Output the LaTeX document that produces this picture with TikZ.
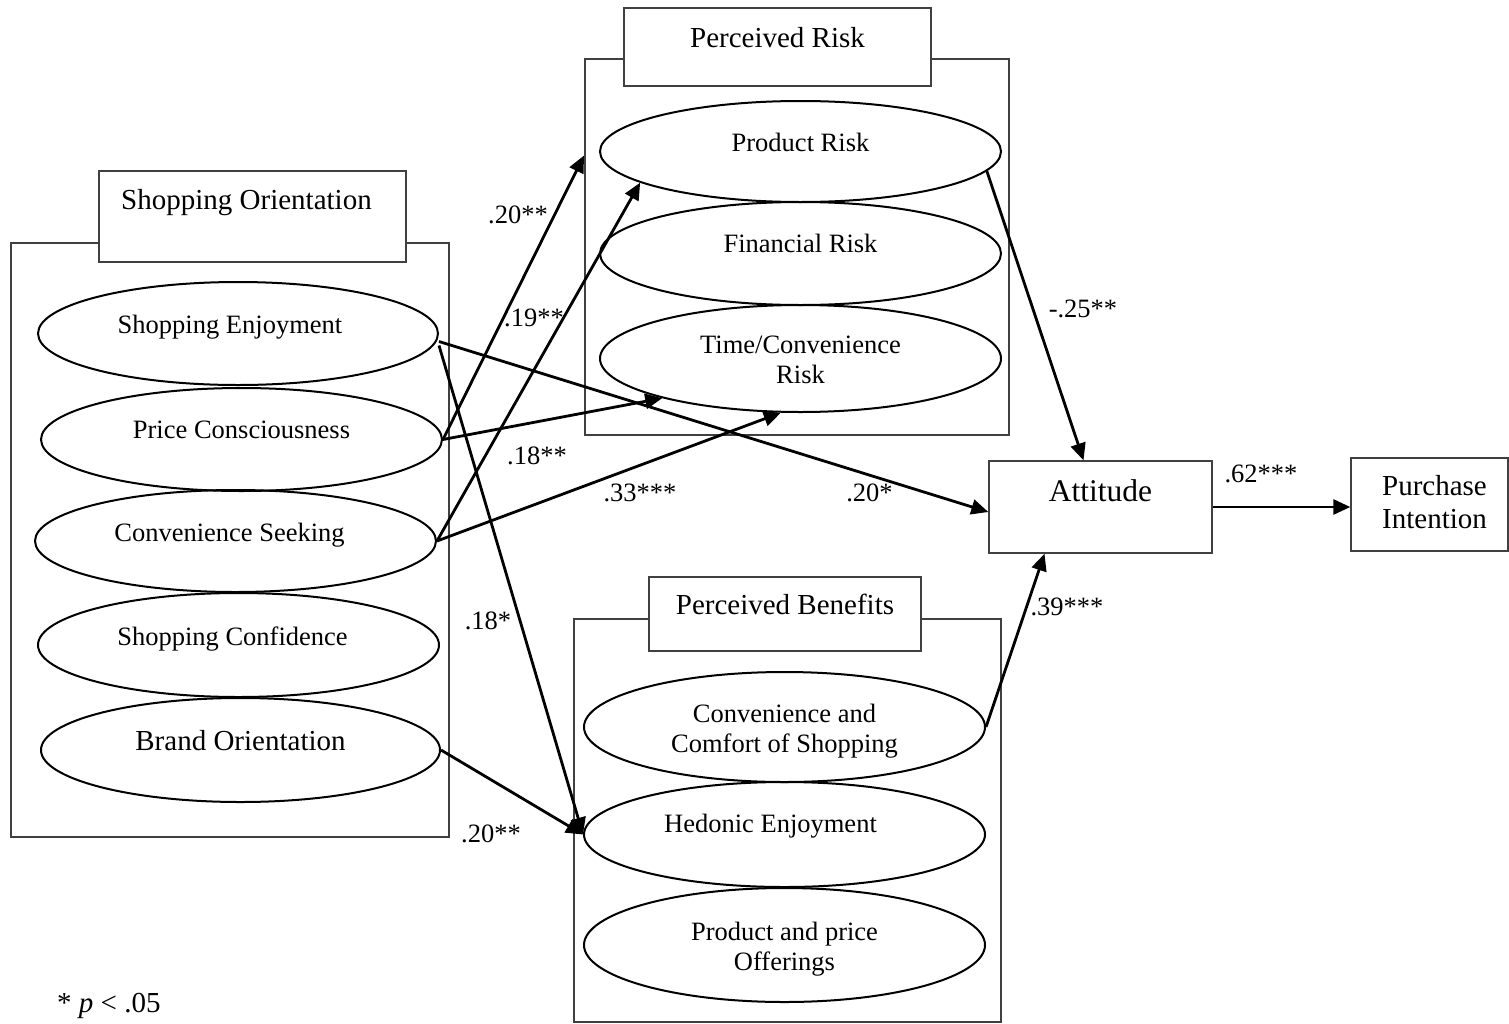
\documentclass[tikz,border=0pt]{standalone}
\usepackage{fontspec}
\setmainfont{Liberation Serif}
\usetikzlibrary{shapes.geometric, arrows.meta}
\tikzstyle{construct} = [ellipse, draw=black, line width=2pt, inner sep=0pt, minimum width=401pt]
\tikzstyle{group} = [rectangle, draw=black!75, line width=1.4pt, inner sep=0pt]
\tikzstyle{heading} = [rectangle, draw=black!75, line width=1.4pt, inner sep=0pt, fill=white]
\tikzstyle{varname} = [font=\fontsize{26.5}{30.5}\selectfont, align=center, anchor=base, inner sep=0pt]
\tikzstyle{bigname} = [font=\fontsize{29}{33}\selectfont, align=center, anchor=base, inner sep=0pt]
\tikzstyle{coef} = [font=\fontsize{26.5}{30.5}\selectfont, inner sep=0pt]
\tikzstyle{edge} = [line width=2.8pt, -{Triangle[length=17pt, width=15pt]}]

\begin{document}
\begin{tikzpicture}[x=1pt, y=-1pt]

\fill[white] (0,0) rectangle (1509,1023);
\useasboundingbox (0,0) rectangle (1509,1023);

% groups
\node (sobox) [group, minimum width=438pt, minimum height=594pt] at (230,540) {};
\node (sotitle) [heading, minimum width=307pt, minimum height=91pt] at (252.5,216.5) {};
\node (prbox) [group, minimum width=424pt, minimum height=376pt] at (797,247) {};
\node (prtitle) [heading, minimum width=307pt, minimum height=78pt] at (777.5,47) {};
\node (pbbox) [group, minimum width=427pt, minimum height=403pt] at (787.5,820.5) {};
\node (pbtitle) [heading, minimum width=272pt, minimum height=74pt] at (785,614) {};
\node (att) [heading, minimum width=223pt, minimum height=92pt] at (1100.5,507) {};
\node (pi) [heading, minimum width=157pt, minimum height=93pt] at (1429.5,504.5) {};

\node [bigname] at ([xshift=-6pt,yshift=7.5pt]sotitle.center) {Shopping Orientation};
\node [bigname] at (prtitle.center) {Perceived Risk};
\node [bigname] at (pbtitle.center) {Perceived Benefits};
\node [bigname, font=\fontsize{31.5}{35}\selectfont] at ([yshift=6pt]att.center) {Attitude};
\node [bigname] at ([xshift=5pt,yshift=-23.5pt]pi.center) {Purchase\\Intention};

% shopping orientation
\node (se) [construct, minimum width=400pt, minimum height=103pt] at (238,333.5) {};
\node (pc) [construct, minimum height=103pt] at (241.5,439.5) {};
\node (cs) [construct, minimum height=102pt] at (235.5,541) {};
\node (sc) [construct, minimum height=104pt] at (238.5,645) {};
\node (bo) [construct, minimum width=399pt, minimum height=104pt] at (240.5,750) {};

\node [varname] at ([xshift=-8pt]se.center) {Shopping Enjoyment};
\node [varname] at ([yshift=1.5pt]pc.center) {Price Consciousness};
\node [varname] at ([xshift=-6pt]cs.center) {Convenience Seeking};
\node [varname] at ([xshift=-6pt]sc.center) {Shopping Confidence};
\node [bigname] at (bo.center) {Brand Orientation};

% perceived risk
\node (prod) [construct, minimum height=101pt] at (800.5,151.5) {};
\node (fin) [construct, minimum height=103pt] at (800.5,253.5) {};
\node (tc) [construct, minimum height=107pt] at (800.5,358.5) {};

\node [varname] at (prod.center) {Product Risk};
\node [varname] at ([yshift=1.5pt]fin.center) {Financial Risk};
\node [varname] at ([yshift=-25pt]tc.center) {Time/Convenience\\Risk};

% perceived benefits
\node (cc) [construct, minimum height=110pt] at (784.5,727) {};
\node (he) [construct, minimum height=105pt] at (784.5,834.5) {};
\node (pp) [construct, minimum height=114pt] at (784.5,945) {};

\node [varname] at ([yshift=-25.5pt]cc.center) {Convenience and\\Comfort of Shopping};
\node [varname] at ([xshift=-14pt,yshift=2pt]he.center) {Hedonic Enjoyment};
\node [varname] at ([yshift=-25.5pt]pp.center) {Product and price\\Offerings};

% paths
\draw [edge] (pc.east) -- ([xshift=-15pt,yshift=-4pt]prod.west);
\draw [edge] (cs.east) -- (prod.191);
\draw [edge] (pc.east) -- (tc.196);
\draw [edge] (cs.east) -- (tc.250);
\draw [edge] ([yshift=-8pt]se.east) -- ([yshift=-5pt]att.west);
\draw [edge] ([yshift=-12pt]se.east) -- (he.west);
\draw [edge] (bo.east) -- (he.west);
\draw [edge] (prod.-6) -- ([xshift=-17pt]att.north);
\draw [edge] (cc.east) -- ([xshift=-56pt]att.south);
\draw [edge] (att.east) -- (att.east -| pi.west);

\node [coef] at (518,215) {.20**};
\node [coef] at (534,318) {.19**};
\node [coef] at (537,456) {.18**};
\node [coef] at (640,493) {.33***};
\node [coef] at (869.5,492.5) {.20*};
\node [coef] at (488,621) {.18*};
\node [coef] at (491,834) {.20**};
\node [coef] at (1083,308.5) {-.25**};
\node [coef] at (1067,606.5) {.39***};
\node [coef] at (1261,473.5) {.62***};

\node [bigname, anchor=base west] at (57,1012) {* \textit{p} < .05};

\end{tikzpicture}
\end{document}
